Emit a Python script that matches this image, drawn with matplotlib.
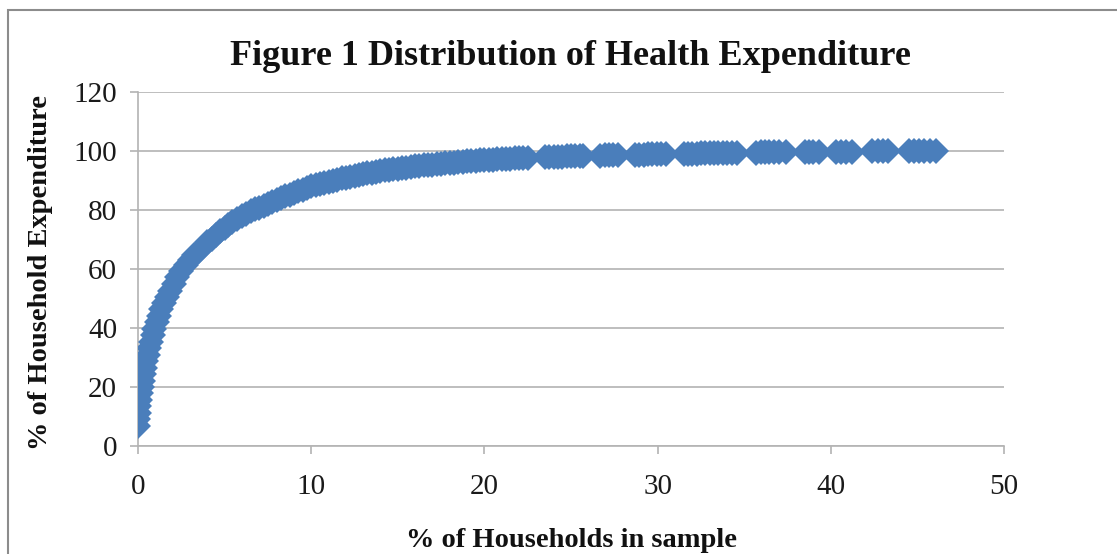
import matplotlib
matplotlib.use("Agg")
import matplotlib.pyplot as plt
from matplotlib.patches import Rectangle

# Cumulative share of health expenditure against share of households
households_pct = [
    0.00, 0.02, 0.05, 0.08, 0.12, 0.17, 0.23, 0.29, 0.35, 0.42,
    0.49, 0.57, 0.65, 0.74, 0.84, 0.95, 1.07, 1.20, 1.34, 1.50,
    1.67, 1.85, 2.05, 2.27, 2.50, 2.75, 3.00, 3.25, 3.50, 3.75,
    4.00, 4.25, 4.50, 4.75, 5.00, 5.20, 5.40, 5.70,
    6.00, 6.25, 6.50, 6.75, 7.00, 7.25, 7.50, 7.75, 8.00, 8.25,
    8.50, 8.75, 9.00, 9.25, 9.50, 9.75, 10.00, 10.25, 10.50, 10.75,
    11.00, 11.25, 11.50, 11.75, 12.00, 12.25, 12.50, 12.75, 13.00, 13.25,
    13.50, 13.75, 14.00, 14.25, 14.50, 14.75, 15.00, 15.25, 15.50, 15.75,
    16.00, 16.25, 16.50, 16.75, 17.00, 17.25, 17.50, 17.75, 18.00, 18.25,
    18.50, 18.75, 19.00, 19.25, 19.50, 19.75, 20.00, 20.25, 20.50, 20.75,
    21.00, 21.25, 21.50, 21.75, 22.00, 22.25, 22.50,
    23.50, 23.75, 24.00, 24.25, 24.50, 24.75, 25.00, 25.25, 25.50, 25.70,
    26.70, 26.95, 27.20, 27.45, 27.70,
    28.70, 28.95, 29.20, 29.45, 29.70, 29.95, 30.20, 30.50,
    31.50, 31.75, 32.00, 32.25, 32.50, 32.75, 33.00, 33.25, 33.50, 33.75,
    34.00, 34.30, 34.60,
    35.70, 35.95, 36.20, 36.45, 36.70, 37.00, 37.40,
    38.50, 38.75, 39.00, 39.30,
    40.30, 40.60, 40.90, 41.20,
    42.40, 42.70, 43.00, 43.30,
    44.50, 44.80, 45.10, 45.40, 45.70, 46.10,
]
expenditure_pct = [
    6.8, 9.0, 11.2, 13.4, 15.6, 17.8, 20.0, 22.2, 24.4, 26.6,
    28.8, 31.0, 33.2, 35.4, 37.6, 39.8, 42.0, 44.2, 46.4, 48.5,
    50.6, 52.7, 54.9, 57.2, 59.3, 61.2, 63.0, 64.6, 66.2, 67.6,
    69.0, 70.3, 71.6, 72.8, 74.0, 75.0, 75.9, 77.1,
    78.0, 78.8, 79.5, 80.2, 80.8, 81.5, 82.1, 82.8, 83.4, 84.0,
    84.6, 85.2, 85.8, 86.4, 86.9, 87.5, 88.0, 88.4, 88.8, 89.2,
    89.6, 90.0, 90.3, 90.7, 91.0, 91.3, 91.6, 91.9, 92.2, 92.5,
    92.7, 93.0, 93.2, 93.4, 93.6, 93.8, 94.0, 94.2, 94.4, 94.6,
    94.8, 95.0, 95.1, 95.3, 95.4, 95.6, 95.7, 95.9, 96.0, 96.1,
    96.2, 96.4, 96.5, 96.6, 96.7, 96.8, 96.9, 97.0, 97.1, 97.2,
    97.3, 97.35, 97.4, 97.5, 97.6, 97.65, 97.7,
    97.9, 97.95, 98.0, 98.05, 98.1, 98.15, 98.2, 98.25, 98.3, 98.3,
    98.45, 98.5, 98.5, 98.55, 98.6,
    98.75, 98.8, 98.8, 98.85, 98.9, 98.9, 98.95, 99.0,
    99.1, 99.1, 99.15, 99.15, 99.2, 99.2, 99.25, 99.25, 99.3, 99.3,
    99.35, 99.35, 99.4,
    99.45, 99.5, 99.5, 99.55, 99.55, 99.6, 99.6,
    99.65, 99.7, 99.7, 99.7,
    99.75, 99.8, 99.8, 99.8,
    99.85, 99.85, 99.9, 99.9,
    99.95, 99.95, 100.0, 100.0, 100.0, 100.0,
]

x_ticks = [0, 10, 20, 30, 40, 50]
y_ticks = [0, 20, 40, 60, 80, 100, 120]

title = "Figure 1 Distribution of Health Expenditure"
x_title = "% of Households in sample"
y_title = "% of Household Expenditure"

W, H = 1117, 554
plt.rcParams["font.family"] = ["Liberation Serif", "DejaVu Serif"]

fig = plt.figure(figsize=(W / 100, H / 100), dpi=100)
ax = fig.add_axes([138 / W, 1 - 446 / H, (1004 - 138) / W, (446 - 92) / H])

grid_col = "#b3b3b3"
ax.plot(households_pct, expenditure_pct, linestyle="none", marker="D",
        markersize=13, color="#4a7ebb", markeredgewidth=0, zorder=3)

ax.set_xlim(0, 50)
ax.set_ylim(0, 120)
ax.set_xticks(x_ticks)
ax.set_yticks(y_ticks)
ax.yaxis.grid(True, color=grid_col, linewidth=1.2)
ax.set_axisbelow(True)
for side in ("top", "right"):
    ax.spines[side].set_visible(False)
for side in ("left", "bottom"):
    ax.spines[side].set_color(grid_col)
    ax.spines[side].set_linewidth(1.2)
ax.tick_params(axis="both", colors=grid_col, length=6, width=1.2,
               labelcolor="#1a1a1a", labelsize=21)
ax.tick_params(axis="x", pad=14)
ax.tick_params(axis="y", pad=9)

fig.text(570 / W, 1 - 65 / H, title, ha="center", va="baseline",
         fontsize=26, fontweight="bold", color="#111111")
fig.text(571 / W, 1 - 547 / H, x_title, ha="center", va="baseline",
         fontsize=20.5, fontweight="bold", color="#111111")
fig.text(41 / W, 1 - 272 / H, y_title, ha="center", va="center",
         rotation=90, fontsize=20.5, fontweight="bold", color="#111111")

# chart area border
fig.patches.append(Rectangle((8 / W, -0.1), 1.2, 1 - 10 / H + 0.1,
                             transform=fig.transFigure, fill=False,
                             edgecolor="#8c8c8c", linewidth=1.5))

fig.savefig("out.png", dpi=100)
